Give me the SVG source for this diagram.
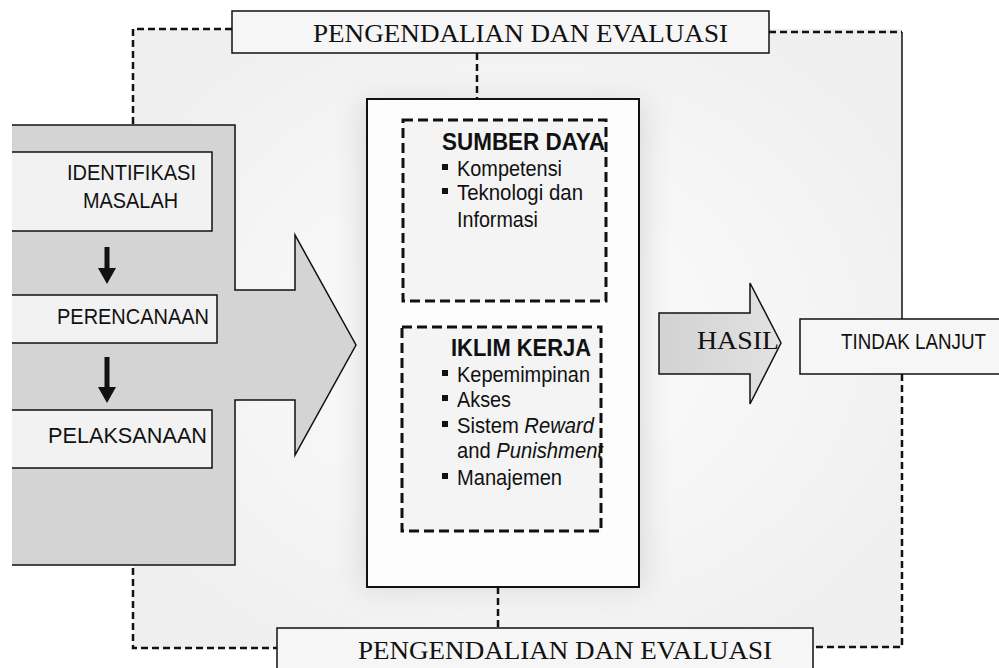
<svg xmlns="http://www.w3.org/2000/svg" width="999" height="668" viewBox="0 0 999 668">
<defs>
<radialGradient id="bg" cx="0.5" cy="0.5" r="0.6">
<stop offset="0" stop-color="#fdfdfd"/>
<stop offset="0.6" stop-color="#f5f5f5"/>
<stop offset="1" stop-color="#efefef"/>
</radialGradient>
<linearGradient id="hasilFill" x1="0" y1="0" x2="1" y2="0">
<stop offset="0" stop-color="#d2d2d2"/>
<stop offset="1" stop-color="#e2e2e2"/>
</linearGradient>
<filter id="blur" x="-30%" y="-30%" width="160%" height="160%">
<feGaussianBlur stdDeviation="14"/>
</filter>
</defs>
<style>
.serif{font-family:"Liberation Serif","Times New Roman",serif;fill:#111;}
.sans{font-family:"Liberation Sans",Arial,sans-serif;fill:#111;font-size:22px;}
.bold{font-weight:bold;font-size:23px;}
.box{fill:#f6f6f6;stroke:#111;stroke-width:1.5;}
.loop{fill:none;stroke:#111;stroke-width:2.5;stroke-dasharray:7 4;}
.solid{fill:none;stroke:#111;stroke-width:1.5;}
.dbox{fill:#f4f4f4;stroke:#111;stroke-width:3;stroke-dasharray:10 5;}
.bul{fill:#111;}
</style>
<rect width="999" height="668" fill="#ffffff"/>
<rect x="133" y="29" width="769" height="619" fill="url(#bg)"/>
<rect x="360" y="100" width="286" height="490" fill="#dcdcdc" filter="url(#blur)"/>

<g id="connectors">
<polyline class="loop" points="232,29 133,29 133,648 277,648"/>
<polyline class="loop" points="769,32 902,32"/>
<line class="solid" x1="902" y1="32" x2="902" y2="319"/>
<polyline class="loop" points="902,374 902,647 813,647"/>
<line class="loop" x1="477" y1="53" x2="477" y2="99"/>
<line class="loop" x1="498" y1="587" x2="498" y2="628"/>
</g>

<g id="proses">
<polygon points="12,125 235,125 235,290 295,290 295,235 356,345 295,455 295,400 235,400 235,565 12,565" fill="#d4d4d4"/>
<polyline class="solid" points="12,125 235,125 235,290 295,290 295,235 356,345 295,455 295,400 235,400 235,565 12,565"/>
</g>

<g id="identifikasi">
<rect x="12" y="152" width="200" height="79" fill="#f2f2f2"/>
<polyline class="solid" points="12,152 212,152 212,231 12,231"/>
<text class="sans" x="67" y="180" textLength="129" lengthAdjust="spacingAndGlyphs">IDENTIFIKASI</text>
<text class="sans" x="83" y="208" textLength="95" lengthAdjust="spacingAndGlyphs">MASALAH</text>
</g>

<g id="arrow1">
<rect x="104.5" y="247" width="5" height="22" fill="#111"/>
<polygon points="98,268 116,268 107,284" fill="#111"/>
</g>

<g id="perencanaan">
<rect x="12" y="295" width="205" height="48" fill="#f2f2f2"/>
<polyline class="solid" points="12,295 217,295 217,343 12,343"/>
<text class="sans" x="57" y="324" textLength="152" lengthAdjust="spacingAndGlyphs">PERENCANAAN</text>
</g>

<g id="arrow2">
<rect x="104.5" y="357" width="5" height="31" fill="#111"/>
<polygon points="98,387 116,387 107,403" fill="#111"/>
</g>

<g id="pelaksanaan">
<rect x="12" y="410" width="200" height="58" fill="#f2f2f2"/>
<polyline class="solid" points="12,410 212,410 212,468 12,468"/>
<text class="sans" x="48" y="443" textLength="159" lengthAdjust="spacingAndGlyphs">PELAKSANAAN</text>
</g>

<g id="pengendalian-top">
<rect class="box" x="232" y="11" width="537" height="42"/>
<text class="serif" x="313" y="42" font-size="26" textLength="415" lengthAdjust="spacingAndGlyphs">PENGENDALIAN DAN EVALUASI</text>
</g>

<g id="pusat">
<rect x="367" y="99" width="272" height="488" fill="#fdfdfd" stroke="#111" stroke-width="2"/>
</g>

<g id="sumber-daya">
<rect class="dbox" x="403" y="120" width="203" height="181"/>
<text class="sans bold" x="442" y="150" textLength="163" lengthAdjust="spacingAndGlyphs">SUMBER DAYA</text>
<rect class="bul" x="442" y="164" width="6" height="6"/>
<text class="sans" x="457" y="176" textLength="105" lengthAdjust="spacingAndGlyphs">Kompetensi</text>
<rect class="bul" x="442" y="188" width="6" height="6"/>
<text class="sans" x="457" y="200" textLength="126" lengthAdjust="spacingAndGlyphs">Teknologi dan</text>
<text class="sans" x="457" y="227" textLength="81" lengthAdjust="spacingAndGlyphs">Informasi</text>
</g>

<g id="iklim-kerja">
<rect class="dbox" x="402" y="327" width="199" height="204"/>
<text class="sans bold" x="451" y="356" textLength="140" lengthAdjust="spacingAndGlyphs">IKLIM KERJA</text>
<rect class="bul" x="442" y="370" width="6" height="6"/>
<text class="sans" x="457" y="382" textLength="133" lengthAdjust="spacingAndGlyphs">Kepemimpinan</text>
<rect class="bul" x="442" y="395" width="6" height="6"/>
<text class="sans" x="457" y="407" textLength="54" lengthAdjust="spacingAndGlyphs">Akses</text>
<rect class="bul" x="442" y="421" width="6" height="6"/>
<text class="sans" x="457" y="433" textLength="137" lengthAdjust="spacingAndGlyphs">Sistem <tspan font-style="italic">Reward</tspan></text>
<text class="sans" x="457" y="458" textLength="146" lengthAdjust="spacingAndGlyphs">and <tspan font-style="italic">Punishment</tspan></text>
<rect class="bul" x="442" y="473" width="6" height="6"/>
<text class="sans" x="457" y="485" textLength="105" lengthAdjust="spacingAndGlyphs">Manajemen</text>
</g>

<g id="hasil">
<polygon points="659,313 750,313 750,283 781,343 750,404 750,374 659,374" fill="url(#hasilFill)" stroke="#111" stroke-width="1.5"/>
<text class="serif" x="697" y="349" font-size="25" textLength="82" lengthAdjust="spacingAndGlyphs">HASIL</text>
</g>

<g id="tindak-lanjut">
<rect class="box" x="800" y="319" width="205" height="55"/>
<text class="sans" x="841" y="349" textLength="145" lengthAdjust="spacingAndGlyphs">TINDAK LANJUT</text>
</g>

<g id="pengendalian-bottom">
<rect class="box" x="277" y="628" width="536" height="60"/>
<text class="serif" x="358" y="659" font-size="26" textLength="414" lengthAdjust="spacingAndGlyphs">PENGENDALIAN DAN EVALUASI</text>
</g>
</svg>
